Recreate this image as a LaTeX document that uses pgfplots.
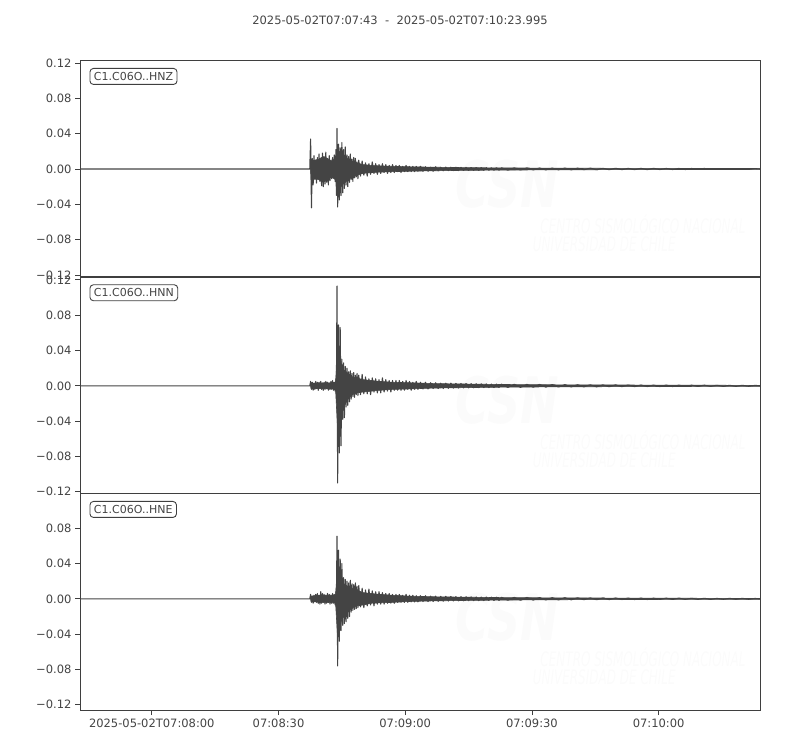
\documentclass[border=0pt]{standalone}
\usepackage{fontspec}
\setmainfont{DejaVu Sans}
\usepackage{pgfplots}
\pgfplotsset{compat=1.18}

\definecolor{trc}{HTML}{444444}
\definecolor{axc}{HTML}{3F3F3F}
\definecolor{txt}{HTML}{444444}
\definecolor{wm}{HTML}{FBFBFB}

\newcommand{\tfont}{\fontsize{11.5bp}{13bp}\selectfont}

\pgfplotsset{
  seis/.style={
    scale only axis, width=680bp, height=216.7bp,
    xmin=0, xmax=160.995,
    axis line style={draw=axc, line width=0.8bp},
    every tick/.style={draw=axc, line width=0.8bp},
    tick align=outside, major tick length=5bp,
    ticklabel style={font=\tfont, text=txt},
    ytick pos=left, xtick pos=bottom,
    ytick={-0.12,-0.08,-0.04,0,0.04,0.08,0.12},
    yticklabels={−0.12,−0.08,−0.04,0.00,0.04,0.08,0.12},
    xtick=\empty,
  },
  wave/.style={trc, line width=1.1bp, line join=round},
  band/.style={fill=trc, draw=trc, line width=0.6bp},
}

% watermark that sits in every panel
\newcommand{\csnmark}{%
  \node[text=wm, font=\fontsize{64bp}{64bp}\selectfont\bfseries\itshape, xscale=0.72]
    at (rel axis cs:0.628,0.43) {CSN};
  \node[text=wm, font=\fontsize{20bp}{20bp}\selectfont\itshape, xscale=0.6]
    at (rel axis cs:0.828,0.243) {CENTRO SISMOLÓGICO NACIONAL};
  \node[text=wm, font=\fontsize{20bp}{20bp}\selectfont\itshape, xscale=0.6]
    at (rel axis cs:0.771,0.151) {UNIVERSIDAD DE CHILE};
}
\newcommand{\stalabel}[1]{%
  \node[anchor=north west, draw=axc, line width=0.9bp, rounded corners=3.5bp,
        text=txt, font=\fontsize{11bp}{13bp}\selectfont,
        inner xsep=4bp, inner ysep=4bp, text height=8bp, text depth=0bp,
        xshift=9.5bp, yshift=-7.7bp]
    at (rel axis cs:0,1) {#1};
}

\begin{document}
\begin{tikzpicture}
\path (0,0) rectangle (800bp,750bp);
\node[font=\tfont, text=txt] at (400bp,730bp)
  {2025-05-02T07:07:43\ \ -\ \ 2025-05-02T07:10:23.995};

% ---------- HNZ ----------
\begin{axis}[seis, at={(80bp,473bp)}, anchor=south west,
    ymin=-0.1223, ymax=0.1231]
\csnmark
% envelope of the coda (upper edge forward, lower edge back)
\addplot[band] table[row sep=\\] {
t a\\
54.6 0\\ 54.7 0.010\\ 55.5 0.010\\ 56.5 0.011\\ 57.5 0.014\\ 58.5 0.012\\
59.5 0.009\\ 60.5 0.012\\ 61.0 0.020\\ 61.5 0.020\\ 62.5 0.016\\ 63.5 0.011\\
64.5 0.009\\ 65.5 0.007\\ 67 0.005\\ 69 0.004\\ 71 0.0035\\ 74 0.003\\
78 0.0025\\ 84 0.002\\ 92 0.0015\\ 100 0.0012\\ 115 0.0009\\ 130 0.0007\\
145 0.0006\\ 160.995 0.0005\\
160.995 -0.0005\\ 145 -0.0006\\ 130 -0.0007\\ 115 -0.0009\\ 100 -0.0012\\ 92 -0.0015\\
84 -0.002\\ 78 -0.0025\\ 74 -0.003\\ 71 -0.0035\\ 69 -0.004\\ 67 -0.005\\
65.5 -0.007\\ 64.5 -0.009\\ 63.5 -0.012\\ 62.5 -0.016\\ 61.5 -0.022\\ 61.0 -0.022\\
60.5 -0.012\\ 59.5 -0.009\\ 58.5 -0.013\\ 57.5 -0.015\\ 56.5 -0.012\\ 55.5 -0.011\\
54.7 -0.012\\ 54.6 0\\
};
\addplot[wave] table[row sep=\\] {
t a\\
0 0\\ 54.4 0\\ 54.6 0.034\\ 54.8 -0.044\\ 55.0 0.012\\ 55.2 -0.018\\
55.4 0.015\\ 55.6 -0.012\\ 55.8 0.009\\ 56.0 -0.016\\ 56.2 0.013\\ 56.4 -0.010\\
56.6 0.017\\ 56.8 -0.014\\ 57.0 0.011\\ 57.2 -0.019\\ 57.4 0.018\\ 57.6 -0.020\\
57.8 0.014\\ 58.0 -0.017\\ 58.2 0.019\\ 58.4 -0.015\\ 58.6 0.012\\ 58.8 -0.018\\
59.0 0.015\\ 59.2 -0.013\\ 59.4 0.010\\ 59.6 -0.011\\ 59.8 0.013\\ 60.0 -0.009\\
60.2 0.016\\ 60.4 -0.014\\ 60.6 0.022\\ 60.7 -0.030\\ 60.85 0.046\\ 61.0 -0.043\\
61.2 0.028\\ 61.4 -0.035\\ 61.6 0.024\\ 61.8 -0.030\\ 62.0 0.030\\ 62.2 -0.027\\
62.4 0.022\\ 62.6 -0.022\\ 62.8 0.025\\ 63.0 -0.018\\ 63.2 0.016\\ 63.4 -0.020\\
63.6 0.014\\ 63.8 -0.015\\ 64.0 0.017\\ 64.2 -0.012\\ 64.4 0.011\\ 64.6 -0.014\\
64.8 0.013\\ 65.0 -0.010\\ 65.2 0.012\\ 65.4 -0.009\\ 65.6 0.008\\ 65.8 -0.011\\
66.0 0.010\\ 66.4 -0.008\\ 66.8 0.009\\ 67.2 -0.007\\ 67.6 0.007\\ 68.0 -0.008\\
68.4 0.006\\ 68.8 -0.006\\ 69.2 0.008\\ 69.6 -0.005\\ 70.0 0.006\\ 70.4 -0.006\\
70.8 0.005\\ 71.2 -0.005\\ 71.6 0.006\\ 72.0 -0.004\\ 72.4 0.005\\ 72.8 -0.005\\
73.2 0.004\\ 73.6 -0.004\\ 74.0 0.005\\ 74.4 -0.004\\ 74.8 0.004\\ 75.2 -0.003\\
75.6 0.004\\ 76.0 -0.004\\ 76.4 0.003\\ 76.8 -0.003\\ 77.2 0.004\\ 77.6 -0.003\\
78.0 0.003\\ 78.4 -0.003\\ 78.8 0.003\\ 79.2 -0.003\\ 79.6 0.003\\ 80.0 -0.0025\\
80.6 0.003\\ 81.2 -0.0025\\ 81.8 0.0025\\ 82.4 -0.0025\\ 83.0 0.002\\ 83.6 -0.0025\\
84.2 0.0025\\ 84.8 -0.002\\ 85.4 0.002\\ 86.0 -0.002\\ 86.6 0.0022\\ 87.2 -0.0018\\
87.8 0.002\\ 88.4 -0.0018\\ 89.0 0.002\\ 89.6 -0.0018\\ 90.2 0.0018\\ 90.8 -0.0016\\
91.4 0.0018\\ 92.0 -0.0016\\ 92.6 0.0016\\ 93.2 -0.0015\\ 93.8 0.0016\\ 94.4 -0.0015\\
95.0 0.0015\\ 95.6 -0.0014\\ 96.2 0.0015\\ 96.8 -0.0014\\ 97.4 0.0014\\ 98.0 -0.0013\\
98.6 0.0014\\ 99.2 -0.0013\\ 99.8 0.0013\\ 101.3 -0.0012\\ 102.8 0.0012\\ 104.3 -0.0011\\
105.8 0.0011\\ 107.3 -0.0010\\ 108.8 0.0011\\ 110.3 -0.0010\\ 111.8 0.0010\\ 113.3 -0.0009\\
114.8 0.0010\\ 116.3 -0.0009\\ 117.8 0.0009\\ 119.3 -0.0008\\ 120.8 0.0009\\ 122.3 -0.0008\\
123.8 0.0008\\ 125.3 -0.0008\\ 126.8 0.0008\\ 128.3 -0.0007\\ 129.8 0.0007\\ 131.3 -0.0007\\
132.8 0.0007\\ 134.3 -0.0007\\ 135.8 0.0007\\ 137.3 -0.0006\\ 138.8 0.0006\\ 140.3 -0.0006\\
141.8 0.0006\\ 143.3 -0.0006\\ 144.8 0.0006\\ 146.3 -0.0005\\ 147.8 0.0006\\ 149.3 -0.0005\\
150.8 0.0005\\ 152.3 -0.0005\\ 153.8 0.0005\\ 155.3 -0.0005\\ 156.8 0.0005\\ 158.3 -0.0004\\
159.8 0.0004\\ 160.995 0\\
};
\stalabel{C1.C06O..HNZ}
\end{axis}

% ---------- HNN ----------
\begin{axis}[seis, at={(80bp,256.7bp)}, anchor=south west,
    ymin=-0.1217, ymax=0.1237]
\csnmark
\addplot[band] table[row sep=\\] {
t a\\
54.6 0\\ 54.7 0.003\\ 60.5 0.0035\\ 61.0 0.040\\ 61.5 0.045\\ 62.0 0.020\\
62.5 0.018\\ 63.5 0.014\\ 64.5 0.010\\ 65.5 0.009\\ 67 0.007\\ 69 0.006\\
71 0.005\\ 74 0.004\\ 78 0.0035\\ 84 0.0025\\ 92 0.002\\ 100 0.0015\\
115 0.0011\\ 130 0.0009\\ 145 0.0007\\ 160.995 0.0005\\
160.995 -0.0005\\ 145 -0.0007\\ 130 -0.0009\\ 115 -0.0011\\ 100 -0.0015\\ 92 -0.002\\
84 -0.0025\\ 78 -0.0035\\ 74 -0.004\\ 71 -0.005\\ 69 -0.006\\ 67 -0.007\\
65.5 -0.008\\ 64.5 -0.010\\ 63.5 -0.015\\ 62.5 -0.022\\ 62.0 -0.025\\ 61.5 -0.050\\
61.0 -0.050\\ 60.5 -0.0035\\ 54.7 -0.003\\ 54.6 0\\
};
\addplot[wave] table[row sep=\\] {
t a\\
0 0\\ 54.4 0\\ 54.6 0.005\\ 54.8 -0.004\\ 55.0 0.004\\ 55.2 -0.005\\
55.4 0.003\\ 55.6 -0.004\\ 55.8 0.005\\ 56.0 -0.003\\ 56.2 0.004\\ 56.4 -0.005\\
56.6 0.004\\ 56.8 -0.003\\ 57.0 0.005\\ 57.2 -0.004\\ 57.4 0.003\\ 57.6 -0.005\\
57.8 0.004\\ 58.0 -0.004\\ 58.2 0.005\\ 58.4 -0.003\\ 58.6 0.004\\ 58.8 -0.005\\
59.0 0.003\\ 59.2 -0.004\\ 59.4 0.005\\ 59.6 -0.004\\ 59.8 0.006\\ 60.0 -0.005\\
60.2 0.004\\ 60.4 -0.006\\ 60.6 0.008\\ 60.7 -0.008\\ 60.85 0.113\\ 61.0 -0.110\\
61.2 0.069\\ 61.4 -0.076\\ 61.6 0.066\\ 61.8 -0.068\\ 62.0 0.030\\ 62.2 -0.038\\
62.4 0.026\\ 62.6 -0.036\\ 62.8 0.022\\ 63.0 -0.024\\ 63.2 0.020\\ 63.4 -0.022\\
63.6 0.016\\ 63.8 -0.018\\ 64.0 0.017\\ 64.2 -0.015\\ 64.4 0.014\\ 64.6 -0.012\\
64.8 0.015\\ 65.0 -0.013\\ 65.2 0.012\\ 65.4 -0.010\\ 65.6 0.014\\ 65.8 -0.011\\
66.0 0.012\\ 66.4 -0.010\\ 66.8 0.013\\ 67.2 -0.009\\ 67.6 0.010\\ 68.0 -0.009\\
68.4 0.008\\ 68.8 -0.010\\ 69.2 0.009\\ 69.6 -0.007\\ 70.0 0.008\\ 70.4 -0.008\\
70.8 0.007\\ 71.2 -0.008\\ 71.6 0.009\\ 72.0 -0.007\\ 72.4 0.007\\ 72.8 -0.006\\
73.2 0.006\\ 73.6 -0.007\\ 74.0 0.006\\ 74.4 -0.005\\ 74.8 0.006\\ 75.2 -0.005\\
75.6 0.006\\ 76.0 -0.005\\ 76.4 0.005\\ 76.8 -0.005\\ 77.2 0.006\\ 77.6 -0.004\\
78.0 0.005\\ 78.4 -0.005\\ 78.8 0.004\\ 79.2 -0.004\\ 79.6 0.005\\ 80.0 -0.004\\
80.6 0.004\\ 81.2 -0.0035\\ 81.8 0.004\\ 82.4 -0.0035\\ 83.0 0.0035\\ 83.6 -0.003\\
84.2 0.0035\\ 84.8 -0.003\\ 85.4 0.003\\ 86.0 -0.003\\ 86.6 0.003\\ 87.2 -0.0028\\
87.8 0.003\\ 88.4 -0.0026\\ 89.0 0.0028\\ 89.6 -0.0025\\ 90.2 0.0026\\ 90.8 -0.0024\\
91.4 0.0025\\ 92.0 -0.0023\\ 92.6 0.0024\\ 93.2 -0.0022\\ 93.8 0.0023\\ 94.4 -0.0021\\
95.0 0.0022\\ 95.6 -0.0020\\ 96.2 0.0021\\ 96.8 -0.0020\\ 97.4 0.0020\\ 98.0 -0.0019\\
98.6 0.0020\\ 99.2 -0.0018\\ 99.8 0.0019\\ 101.3 -0.0018\\ 102.8 0.0017\\ 104.3 -0.0017\\
105.8 0.0016\\ 107.3 -0.0015\\ 108.8 0.0015\\ 110.3 -0.0014\\ 111.8 0.0014\\ 113.3 -0.0013\\
114.8 0.0013\\ 116.3 -0.0012\\ 117.8 0.0012\\ 119.3 -0.0011\\ 120.8 0.0011\\ 122.3 -0.0011\\
123.8 0.0010\\ 125.3 -0.0010\\ 126.8 0.0010\\ 128.3 -0.0009\\ 129.8 0.0009\\ 131.3 -0.0009\\
132.8 0.0009\\ 134.3 -0.0008\\ 135.8 0.0008\\ 137.3 -0.0008\\ 138.8 0.0008\\ 140.3 -0.0008\\
141.8 0.0007\\ 143.3 -0.0007\\ 144.8 0.0007\\ 146.3 -0.0007\\ 147.8 0.0007\\ 149.3 -0.0006\\
150.8 0.0006\\ 152.3 -0.0006\\ 153.8 0.0006\\ 155.3 -0.0006\\ 156.8 0.0006\\ 158.3 -0.0005\\
159.8 0.0005\\ 160.995 0\\
};
\stalabel{C1.C06O..HNN}
\end{axis}

% ---------- HNE ----------
\begin{axis}[seis, at={(80bp,40bp)}, anchor=south west,
    ymin=-0.1259, ymax=0.1195,
    xtick={17,47,77,107,137},
    xticklabels={2025-05-02T07:08:00,07:08:30,07:09:00,07:09:30,07:10:00}]
\csnmark
\addplot[band] table[row sep=\\] {
t a\\
54.6 0\\ 54.7 0.003\\ 57 0.004\\ 60.5 0.004\\ 61.0 0.040\\ 61.5 0.035\\
62.0 0.025\\ 62.5 0.017\\ 63.5 0.014\\ 64.5 0.012\\ 65.5 0.010\\ 67 0.007\\
69 0.006\\ 71 0.005\\ 74 0.004\\ 78 0.003\\ 84 0.0023\\ 92 0.0018\\
100 0.0014\\ 115 0.001\\ 130 0.0008\\ 145 0.0006\\ 160.995 0.0005\\
160.995 -0.0005\\ 145 -0.0006\\ 130 -0.0008\\ 115 -0.001\\ 100 -0.0014\\ 92 -0.0018\\
84 -0.0023\\ 78 -0.003\\ 74 -0.004\\ 71 -0.0045\\ 69 -0.005\\ 67 -0.007\\
65.5 -0.008\\ 64.5 -0.010\\ 63.5 -0.015\\ 62.5 -0.020\\ 62.0 -0.022\\ 61.5 -0.035\\
61.0 -0.045\\ 60.5 -0.004\\ 57 -0.004\\ 54.7 -0.003\\ 54.6 0\\
};
\addplot[wave] table[row sep=\\] {
t a\\
0 0\\ 54.4 0\\ 54.6 0.005\\ 54.8 -0.004\\ 55.0 0.003\\ 55.2 -0.005\\
55.4 0.004\\ 55.6 -0.003\\ 55.8 0.005\\ 56.0 -0.004\\ 56.2 0.006\\ 56.4 -0.005\\
56.6 0.004\\ 56.8 -0.006\\ 57.0 0.008\\ 57.2 -0.005\\ 57.4 0.006\\ 57.6 -0.004\\
57.8 0.005\\ 58.0 -0.006\\ 58.2 0.004\\ 58.4 -0.005\\ 58.6 0.006\\ 58.8 -0.004\\
59.0 0.005\\ 59.2 -0.006\\ 59.4 0.004\\ 59.6 -0.005\\ 59.8 0.006\\ 60.0 -0.005\\
60.2 0.005\\ 60.4 -0.007\\ 60.6 0.008\\ 60.7 -0.010\\ 60.85 0.071\\ 61.0 -0.076\\
61.2 0.055\\ 61.4 -0.048\\ 61.6 0.045\\ 61.8 -0.036\\ 62.0 0.040\\ 62.2 -0.030\\
62.4 0.024\\ 62.6 -0.028\\ 62.8 0.022\\ 63.0 -0.026\\ 63.2 0.020\\ 63.4 -0.022\\
63.6 0.018\\ 63.8 -0.020\\ 64.0 0.021\\ 64.2 -0.015\\ 64.4 0.017\\ 64.6 -0.013\\
64.8 0.016\\ 65.0 -0.012\\ 65.2 0.018\\ 65.4 -0.011\\ 65.6 0.014\\ 65.8 -0.010\\
66.0 0.015\\ 66.4 -0.009\\ 66.8 0.012\\ 67.2 -0.010\\ 67.6 0.010\\ 68.0 -0.008\\
68.4 0.011\\ 68.8 -0.007\\ 69.2 0.009\\ 69.6 -0.008\\ 70.0 0.008\\ 70.4 -0.006\\
70.8 0.008\\ 71.2 -0.006\\ 71.6 0.007\\ 72.0 -0.006\\ 72.4 0.006\\ 72.8 -0.005\\
73.2 0.006\\ 73.6 -0.005\\ 74.0 0.005\\ 74.4 -0.005\\ 74.8 0.005\\ 75.2 -0.004\\
75.6 0.005\\ 76.0 -0.004\\ 76.4 0.004\\ 76.8 -0.004\\ 77.2 0.005\\ 77.6 -0.004\\
78.0 0.004\\ 78.4 -0.0035\\ 78.8 0.004\\ 79.2 -0.0035\\ 79.6 0.0035\\ 80.0 -0.0035\\
80.6 0.0035\\ 81.2 -0.003\\ 81.8 0.0035\\ 82.4 -0.003\\ 83.0 0.003\\ 83.6 -0.003\\
84.2 0.003\\ 84.8 -0.0028\\ 85.4 0.0028\\ 86.0 -0.0026\\ 86.6 0.0028\\ 87.2 -0.0025\\
87.8 0.0026\\ 88.4 -0.0024\\ 89.0 0.0025\\ 89.6 -0.0023\\ 90.2 0.0024\\ 90.8 -0.0022\\
91.4 0.0023\\ 92.0 -0.0021\\ 92.6 0.0022\\ 93.2 -0.0020\\ 93.8 0.0021\\ 94.4 -0.0020\\
95.0 0.0020\\ 95.6 -0.0019\\ 96.2 0.0020\\ 96.8 -0.0018\\ 97.4 0.0019\\ 98.0 -0.0018\\
98.6 0.0018\\ 99.2 -0.0017\\ 99.8 0.0017\\ 101.3 -0.0016\\ 102.8 0.0016\\ 104.3 -0.0015\\
105.8 0.0015\\ 107.3 -0.0014\\ 108.8 0.0014\\ 110.3 -0.0013\\ 111.8 0.0013\\ 113.3 -0.0012\\
114.8 0.0012\\ 116.3 -0.0011\\ 117.8 0.0011\\ 119.3 -0.0010\\ 120.8 0.0010\\ 122.3 -0.0010\\
123.8 0.0009\\ 125.3 -0.0009\\ 126.8 0.0009\\ 128.3 -0.0008\\ 129.8 0.0008\\ 131.3 -0.0008\\
132.8 0.0008\\ 134.3 -0.0008\\ 135.8 0.0007\\ 137.3 -0.0007\\ 138.8 0.0007\\ 140.3 -0.0007\\
141.8 0.0007\\ 143.3 -0.0006\\ 144.8 0.0006\\ 146.3 -0.0006\\ 147.8 0.0006\\ 149.3 -0.0006\\
150.8 0.0005\\ 152.3 -0.0005\\ 153.8 0.0005\\ 155.3 -0.0005\\ 156.8 0.0005\\ 158.3 -0.0005\\
159.8 0.0004\\ 160.995 0\\
};
\stalabel{C1.C06O..HNE}
\end{axis}
\end{tikzpicture}
\end{document}
